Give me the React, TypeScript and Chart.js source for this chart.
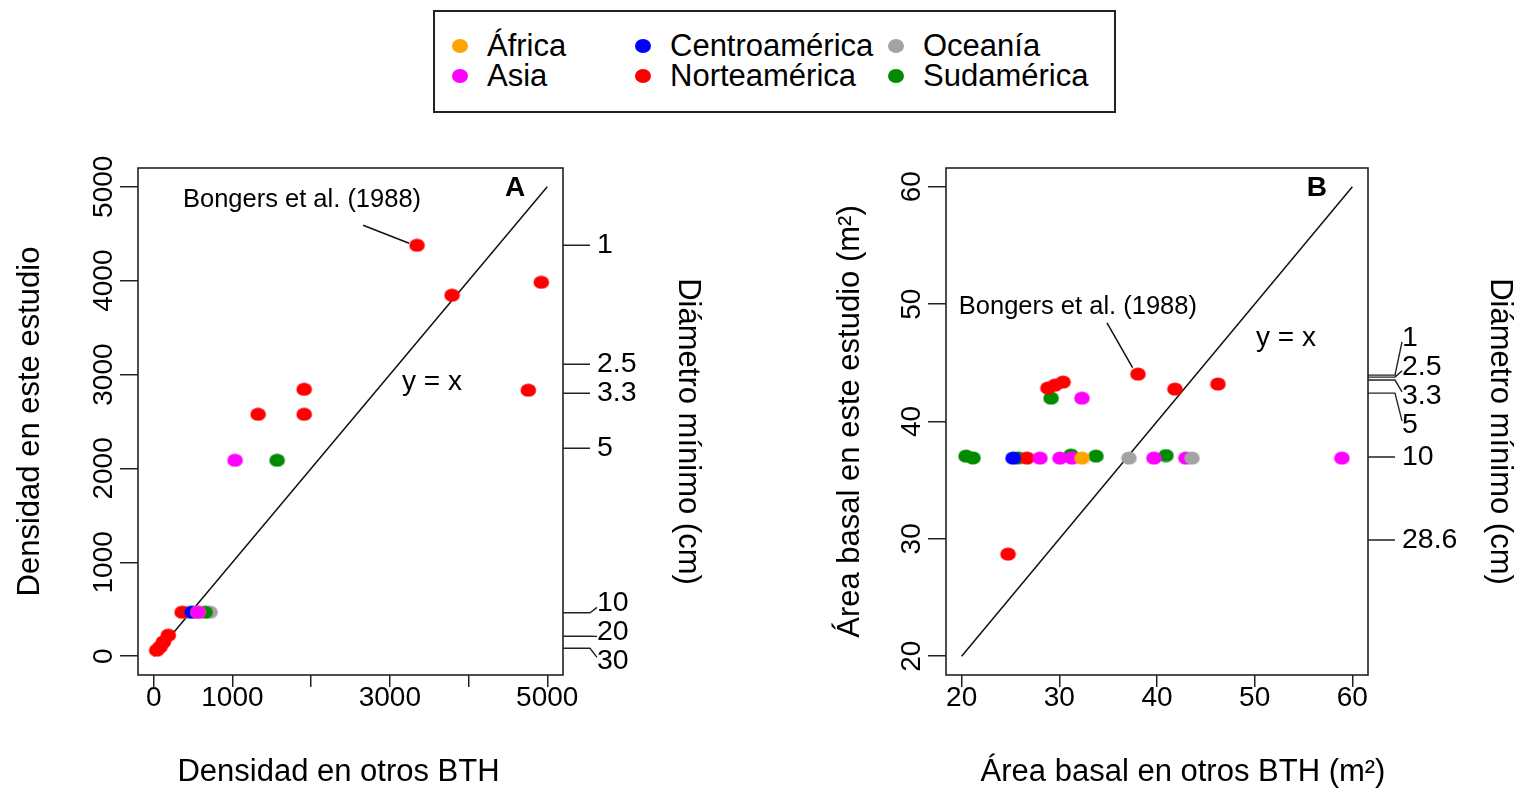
import React, { useEffect, useRef } from 'react';
import { Chart, registerables } from 'chart.js';

Chart.register(...registerables);

const FONT = "'Liberation Sans', Arial, Helvetica, sans-serif";

// ---------- legend / regions ----------
const regionNames = ['África', 'Asia', 'Centroamérica', 'Norteamérica', 'Oceanía', 'Sudamérica'];
const regionColors = ['#FFA500', '#FF00FF', '#0000FF', '#FF0000', '#A3A3A3', '#008B00'];

// ---------- Panel A: density (x = otros BTH, y = este estudio) ----------
const densAfrica = [[563, 469]];
const densAsia = [[1033, 2087], [563, 469]];
const densCentro = [[487, 469]];
const densNorte = [
  [3345, 4377], [3790, 3845], [4924, 3983], [4759, 2833], [1911, 2843], [1911, 2577],
  [1326, 2577], [360, 469], [38, 64], [80, 99], [122, 152], [185, 224],
];
const densOceania = [[436, 469], [715, 469]];
const densSud = [[1567, 2087], [652, 469]];

const densTicks = [0, 1000, 2000, 3000, 4000, 5000];
const densXLabels = ['0', '1000', '', '3000', '', '5000'];
const densYLabels = ['0', '1000', '2000', '3000', '4000', '5000'];
const densLine = [[0, 0], [5000, 5000]];

const diamLabelsA = ['1', '2.5', '3.3', '5', '10', '20', '30'];
const diamValuesA = [4377, 3110, 2801, 2215, 463, 213, 85];

// ---------- Panel B: basal area ----------
const areaAfrica = [[32.32, 36.88]];
const areaAsia = [[32.32, 41.99], [28.02, 36.88], [30.07, 36.88], [31.3, 36.88], [39.69, 36.88], [42.96, 36.88], [58.93, 36.88]];
const areaCentro = [[25.26, 36.88]];
const areaNorte = [
  [38.05, 44.04], [41.84, 42.76], [46.24, 43.19], [28.84, 42.85], [29.56, 43.1],
  [30.38, 43.36], [24.75, 28.7], [26.69, 36.88],
];
const areaOceania = [[37.13, 36.88], [43.58, 36.88]];
const areaSud = [[29.15, 41.99], [20.45, 37.05], [21.16, 36.9], [25.77, 36.9], [31.19, 37.14], [33.75, 37.05], [40.92, 37.1]];

const areaTicks = [20, 30, 40, 50, 60];
const areaLabels = ['20', '30', '40', '50', '60'];
const areaLine = [[20, 20], [60, 60]];

const diamLabelsB = ['1', '2.5', '3.3', '5', '10', '28.6'];
const diamValuesB = [43.95, 43.78, 43.53, 42.42, 36.97, 29.9];

// ---------- helpers ----------
function dot(color: string): HTMLCanvasElement {
  const c = document.createElement('canvas');
  c.width = 17;
  c.height = 14;
  const g = c.getContext('2d')!;
  g.fillStyle = color;
  g.beginPath();
  g.ellipse(8.5, 7, 7.8, 6.6, 0, 0, Math.PI * 2);
  g.fill();
  return c;
}

function spread(px: number[], gap: number): number[] {
  const idx = px.map((_, i) => i).sort((a, b) => px[a] - px[b]);
  let clusters = idx.map((i) => ({ items: [i], center: px[i] }));
  const pos = (c: { items: number[]; center: number }) =>
    c.items.map((_, k) => c.center - ((c.items.length - 1) / 2) * gap + k * gap);
  let changed = true;
  while (changed) {
    changed = false;
    for (let k = 0; k < clusters.length - 1; k++) {
      const a = pos(clusters[k]);
      const b = pos(clusters[k + 1]);
      if (b[0] - a[a.length - 1] < gap - 0.01) {
        const items = clusters[k].items.concat(clusters[k + 1].items);
        const center = items.reduce((s, i) => s + px[i], 0) / items.length;
        clusters.splice(k, 2, { items, center });
        changed = true;
        break;
      }
    }
  }
  const out: number[] = new Array(px.length);
  clusters.forEach((c) => {
    const p = pos(c);
    c.items.forEach((i, k) => (out[i] = p[k]));
  });
  return out;
}

type Panel = {
  series: number[][][];
  orders: number[];
  line: number[][];
  min: number;
  max: number;
  ticks: number[];
  xLabels: string[];
  yLabels: string[];
  diamLabels: string[];
  diamValues: number[];
  xTitle: string;
  yTitle: string;
  leftW: number;
  rightW: number;
  xTitleShift: number;
  yTitleX: number;
  rightTitleX: number;
  letter: string;
  letterAt: number[];
  eqAt: number[];
  refAt: number[];
  refLine: number[][];
};

function buildChart(canvas: HTMLCanvasElement, p: Panel) {
  const datasets: any[] = [
    {
      label: 'y = x',
      data: p.line.map(([x, y]) => ({ x, y })),
      showLine: true,
      borderColor: '#111',
      borderWidth: 1.5,
      pointRadius: 0,
      order: 10,
    },
  ];
  p.series.forEach((s, i) => {
    datasets.push({
      label: regionNames[i],
      data: s.map(([x, y]) => ({ x, y })),
      pointStyle: dot(regionColors[i]),
      pointRadius: 8,
      backgroundColor: regionColors[i],
      borderColor: regionColors[i],
      showLine: false,
      order: p.orders[i],
    });
  });

  const overlay = {
    id: 'overlay',
    afterDraw(chart: any) {
      const { ctx, chartArea: a, scales } = chart;
      const xs = scales.x;
      const ys = scales.y;
      const W = chart.width;
      ctx.save();
      ctx.strokeStyle = '#222';
      ctx.lineWidth = 1.6;
      ctx.strokeRect(a.left, a.top, a.right - a.left, a.bottom - a.top);

      ctx.fillStyle = '#000';
      ctx.font = `28px ${FONT}`;
      ctx.textAlign = 'center';
      ctx.textBaseline = 'middle';
      // x tick labels
      p.ticks.forEach((v, i) => {
        ctx.fillText(p.xLabels[i], xs.getPixelForValue(v), a.bottom + 23);
      });
      // y tick labels (rotated)
      p.ticks.forEach((v, i) => {
        const py = ys.getPixelForValue(v);
        ctx.save();
        ctx.translate(a.left - 34, py);
        ctx.rotate(-Math.PI / 2);
        ctx.fillText(p.yLabels[i], 0, 0);
        ctx.restore();
      });

      // right axis: minimum diameter
      const tickPx = p.diamValues.map((v) => ys.getPixelForValue(v));
      const labPx = spread(tickPx, 29);
      const x0 = a.right;
      const x1 = a.right + 27;
      const x2 = x1 + 7;
      ctx.lineWidth = 1.4;
      ctx.beginPath();
      tickPx.forEach((py, i) => {
        ctx.moveTo(x0, py);
        ctx.lineTo(x1, py);
        if (Math.abs(labPx[i] - py) > 1.5) ctx.lineTo(x2, labPx[i] + (labPx[i] > py ? -4 : 4));
      });
      ctx.stroke();
      ctx.textAlign = 'left';
      ctx.font = `28.5px ${FONT}`;
      p.diamLabels.forEach((t, i) => ctx.fillText(t, x1 + 7, labPx[i]));

      // axis titles
      ctx.textAlign = 'center';
      ctx.font = `31px ${FONT}`;
      ctx.fillText(p.xTitle, (a.left + a.right) / 2 + p.xTitleShift, a.bottom + 97);
      const midY = (a.top + a.bottom) / 2;
      ctx.save();
      ctx.translate(p.yTitleX, midY);
      ctx.rotate(-Math.PI / 2);
      ctx.fillText(p.yTitle, 0, 0);
      ctx.restore();
      ctx.save();
      ctx.translate(W - p.rightTitleX, midY + 10);
      ctx.rotate(Math.PI / 2);
      ctx.fillText('Diámetro mínimo (cm)', 0, 0);
      ctx.restore();

      // annotations
      ctx.font = `28px ${FONT}`;
      ctx.fillText('y = x', xs.getPixelForValue(p.eqAt[0]), ys.getPixelForValue(p.eqAt[1]));
      ctx.font = `bold 28px ${FONT}`;
      ctx.fillText(p.letter, xs.getPixelForValue(p.letterAt[0]), ys.getPixelForValue(p.letterAt[1]));
      ctx.font = `25.5px ${FONT}`;
      ctx.fillText('Bongers et al. (1988)', xs.getPixelForValue(p.refAt[0]), ys.getPixelForValue(p.refAt[1]));
      ctx.lineWidth = 1.5;
      ctx.strokeStyle = '#111';
      ctx.beginPath();
      ctx.moveTo(xs.getPixelForValue(p.refLine[0][0]), ys.getPixelForValue(p.refLine[0][1]));
      ctx.lineTo(xs.getPixelForValue(p.refLine[1][0]), ys.getPixelForValue(p.refLine[1][1]));
      ctx.stroke();
      ctx.restore();
    },
  };

  const grid = { drawOnChartArea: false, drawTicks: true, color: '#222', lineWidth: 1.5 };

  return new Chart(canvas, {
    type: 'scatter',
    data: { datasets },
    plugins: [overlay],
    options: {
      responsive: false,
      animation: false,
      devicePixelRatio: 1,
      layout: { padding: { top: 48, left: 0, right: 0, bottom: 0 } },
      plugins: { legend: { display: false }, tooltip: { enabled: false } },
      scales: {
        x: {
          type: 'linear',
          position: 'bottom',
          min: p.min,
          max: p.max,
          afterBuildTicks: (s: any) => {
            s.ticks = p.ticks.map((v) => ({ value: v }));
          },
          afterFit: (s: any) => {
            s.height = 120;
          },
          ticks: { display: false },
          grid: { ...grid, tickLength: 12 },
          border: { display: false },
        },
        y: {
          type: 'linear',
          position: 'left',
          min: p.min,
          max: p.max,
          afterBuildTicks: (s: any) => {
            s.ticks = p.ticks.map((v) => ({ value: v }));
          },
          afterFit: (s: any) => {
            s.width = p.leftW;
          },
          ticks: { display: false },
          grid: { ...grid, tickLength: 18 },
          border: { display: false },
        },
        y2: {
          type: 'linear',
          position: 'right',
          min: p.min,
          max: p.max,
          afterFit: (s: any) => {
            s.width = p.rightW;
          },
          ticks: { display: false },
          grid: { display: false },
          border: { display: false },
        },
      },
    } as any,
  });
}

const panelA: Panel = {
  series: [densAfrica, densAsia, densCentro, densNorte, densOceania, densSud],
  orders: [2, 1, 3, 5, 6, 4],
  line: densLine,
  min: -200,
  max: 5200,
  ticks: densTicks,
  xLabels: densXLabels,
  yLabels: densYLabels,
  diamLabels: diamLabelsA,
  diamValues: diamValuesA,
  xTitle: 'Densidad en otros BTH',
  yTitle: 'Densidad en este estudio',
  leftW: 138,
  rightW: 198,
  xTitleShift: -12,
  yTitleX: 30,
  rightTitleX: 73,
  letter: 'A',
  letterAt: [4590, 4986],
  eqAt: [3536, 2918],
  refAt: [1884, 4859],
  refLine: [[2660, 4590], [3244, 4398]],
};

const panelB: Panel = {
  series: [areaAfrica, areaAsia, areaCentro, areaNorte, areaOceania, areaSud],
  orders: [1, 3, 4, 5, 2, 6],
  line: areaLine,
  min: 18.4,
  max: 61.6,
  ticks: areaTicks,
  xLabels: areaLabels,
  yLabels: areaLabels,
  diamLabels: diamLabelsB,
  diamValues: diamValuesB,
  xTitle: 'Área basal en otros BTH (m²)',
  yTitle: 'Área basal en este estudio (m²)',
  leftW: 185,
  rightW: 154,
  xTitleShift: 26,
  yTitleX: 89,
  rightTitleX: 22,
  letter: 'B',
  letterAt: [56.37, 59.88],
  eqAt: [53.2, 47.1],
  refAt: [31.9, 49.75],
  refLine: [[34.88, 48.4], [37.5, 44.6]],
};

const legendCols = [460, 643, 896];
const legendRows = [46, 76];
const legendTextGap = 27;

export default function App() {
  const refA = useRef<HTMLCanvasElement>(null);
  const refB = useRef<HTMLCanvasElement>(null);

  useEffect(() => {
    const a = buildChart(refA.current!, panelA);
    const b = buildChart(refB.current!, panelB);
    return () => {
      a.destroy();
      b.destroy();
    };
  }, []);

  const boxL = 433;
  const boxT = 10;

  return (
    <div style={{ position: 'absolute', left: 0, top: 0, width: 1522, height: 795, background: '#fff', fontFamily: FONT }}>
      <div
        style={{
          position: 'absolute',
          left: boxL,
          top: boxT,
          width: 683,
          height: 103,
          border: '2px solid #222',
          boxSizing: 'border-box',
        }}
      >
        {regionNames.map((name, i) => {
          const col = Math.floor(i / 2);
          const row = i % 2;
          const cx = legendCols[col] - boxL - 2;
          const cy = legendRows[row] - boxT - 2;
          return (
            <React.Fragment key={name}>
              <div
                style={{
                  position: 'absolute',
                  left: cx - 8,
                  top: cy - 7,
                  width: 16,
                  height: 14,
                  borderRadius: '50%',
                  background: regionColors[i],
                }}
              />
              <div
                style={{
                  position: 'absolute',
                  left: cx + legendTextGap,
                  top: cy - 17,
                  height: 34,
                  lineHeight: '34px',
                  fontSize: 31,
                  color: '#000',
                  whiteSpace: 'nowrap',
                }}
              >
                {name}
              </div>
            </React.Fragment>
          );
        })}
      </div>
      <canvas ref={refA} width={761} height={675} style={{ position: 'absolute', left: 0, top: 120 }} />
      <canvas ref={refB} width={761} height={675} style={{ position: 'absolute', left: 761, top: 120 }} />
    </div>
  );
}
